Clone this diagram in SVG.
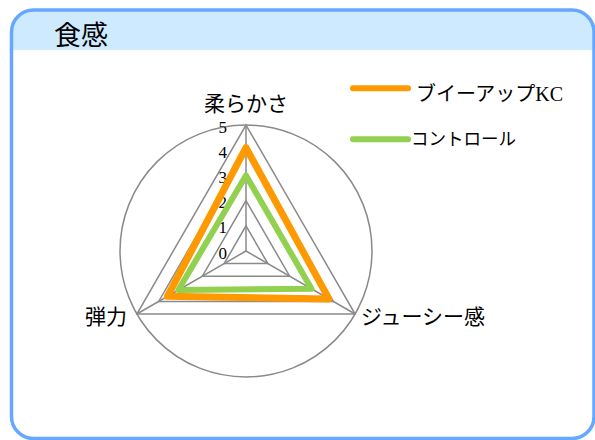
<svg xmlns="http://www.w3.org/2000/svg" width="595" height="440" viewBox="0 0 595 440">
<style>
.grid{fill:none;stroke:#8a8a8a;stroke-width:1.5}
.ser{fill:none;stroke-linejoin:round;stroke-linecap:round}
.tick{font-family:"Liberation Serif",serif;font-size:17px;fill:#000;text-anchor:end}
.ax{font-family:"Noto Sans CJK JP",sans-serif;font-size:21px;fill:#000}
.leg{font-family:"Liberation Serif","Noto Sans CJK JP",serif;fill:#000}
</style>
<defs>
<clipPath id="fr"><rect x="11.5" y="10" width="582.5" height="428.5" rx="22"/></clipPath>
</defs>
<g id="frame">
<rect x="11.5" y="10" width="582.5" height="428.5" rx="22" fill="#ffffff"/>
<rect x="0" y="0" width="595" height="50" fill="#cdeaff" clip-path="url(#fr)"/>
<rect x="11.5" y="10" width="582.5" height="428.5" rx="22" fill="none" stroke="#66a8ff" stroke-width="3.5"/>
<text x="54" y="45" font-family="Noto Sans CJK JP,sans-serif" font-size="27" fill="#000">食感</text>
</g>
<g id="grid">
<circle class="grid" cx="246" cy="251" r="126"/>
<polygon class="grid" points="246,225.8 267.82,263.6 224.18,263.6"/>
<polygon class="grid" points="246,200.6 289.65,276.2 202.35,276.2"/>
<polygon class="grid" points="246,175.4 311.47,288.8 180.53,288.8"/>
<polygon class="grid" points="246,150.2 333.29,301.4 158.71,301.4"/>
<polygon class="grid" points="246,125 355.12,314 136.88,314"/>
<path class="grid" d="M246,251 L246,125 M246,251 L355.12,314 M246,251 L136.88,314"/>
</g>
<g id="ticks">
<text class="tick" x="227" y="132.5">5</text>
<text class="tick" x="227" y="157.7">4</text>
<text class="tick" x="227" y="182.9">3</text>
<text class="tick" x="227" y="208.1">2</text>
<text class="tick" x="227" y="233.3">1</text>
<text class="tick" x="227" y="258.5">0</text>
</g>
<g id="series">
<polygon id="control" class="ser" stroke="#92d050" stroke-width="6" points="246,175.4 311.47,288.8 178.35,290.06"/>
<polygon id="vup" class="ser" stroke="#ff9900" stroke-width="7" points="246,147.7 328.93,298.88 167.43,296.36"/>
</g>
<g id="axis-labels">
<text class="ax" x="246" y="111" text-anchor="middle">柔らかさ</text>
<text class="ax" x="85" y="324">弾力</text>
<text class="ax" x="361" y="324">ジューシー感</text>
</g>
<g id="legend">
<line x1="353" y1="88.3" x2="408" y2="88.3" stroke="#ff9900" stroke-width="6" stroke-linecap="round"/>
<text class="leg" x="416" y="101" font-size="20">ブイーアップKC</text>
<line x1="353" y1="139.3" x2="408" y2="139.3" stroke="#92d050" stroke-width="6" stroke-linecap="round"/>
<text class="leg" x="411" y="145" font-size="17.5">コントロール</text>
</g>
</svg>
